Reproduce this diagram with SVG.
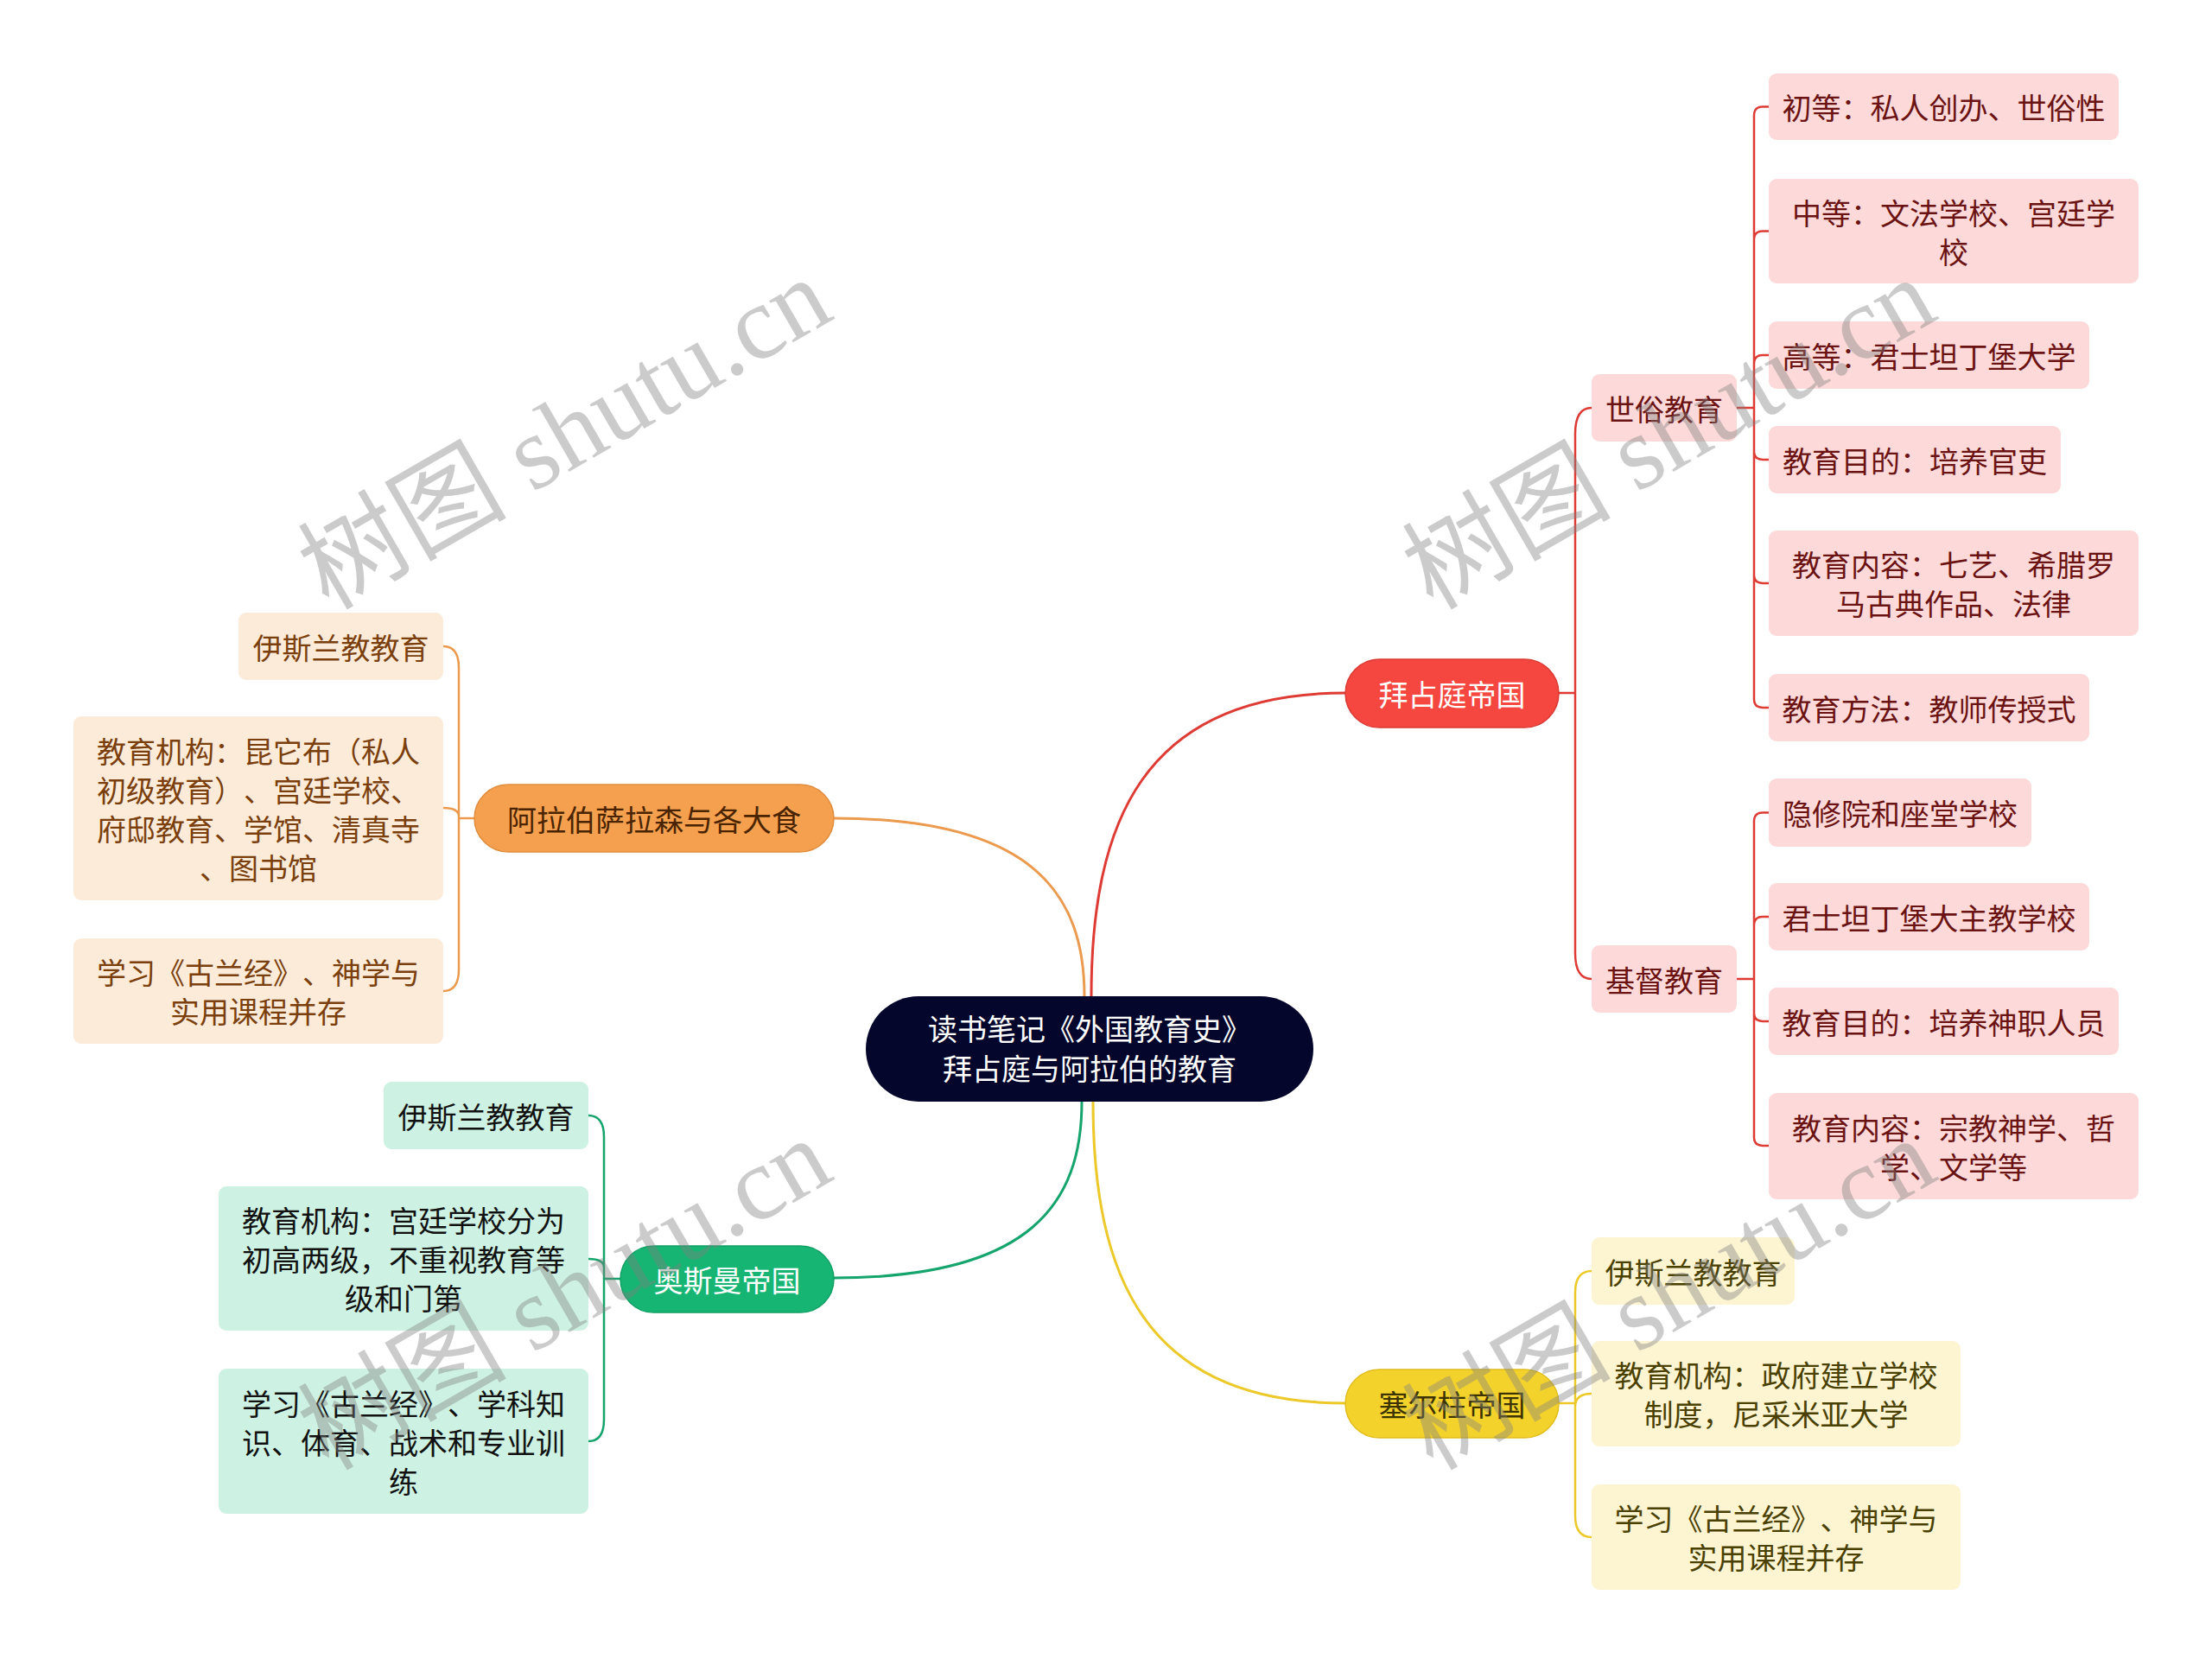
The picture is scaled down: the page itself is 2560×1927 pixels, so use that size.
<svg xmlns="http://www.w3.org/2000/svg" width="2560" height="1927" viewBox="0 0 2560 1927">
<style>
text{font-family:"Noto Sans CJK SC","Noto Sans",sans-serif;font-size:34px;text-anchor:middle;dominant-baseline:central;text-spacing-trim:space-all;font-kerning:none}
.c{fill:none;stroke-linecap:round;stroke-linejoin:round}
.cr{stroke:#de3b35}.co{stroke:#ec9a4e}.cg{stroke:#14a46c}.cy{stroke:#ecc928}
.w1{stroke-width:3}.w2{stroke-width:2.5}
.lr{fill:#fdd9d9}.lo{fill:#fdebd9}.lg{fill:#cdf1e2}.ly{fill:#fdf5d2}
.tr{fill:#6b1212}.to{fill:#7a3f0c}.tg{fill:#111111}.ty{fill:#4a4000}
.wm{font-family:"Liberation Serif","Noto Sans CJK SC",serif;font-size:121px;fill:#808080;opacity:0.4;text-anchor:start;dominant-baseline:auto}
</style>
<rect width="2560" height="1927" fill="#ffffff"/>
<g id="connectors">
<path class="c cr w1" d="M1263 1153 C1263 953 1322 802 1557 802"/>
<path class="c co w1" d="M1255 1153 C1255 1036 1197 947 965 947"/>
<path class="c cg w1" d="M1252 1275 C1252 1391 1195 1479 965 1479"/>
<path class="c cy w1" d="M1265 1275 C1265 1474 1323 1624 1557 1624"/>
<path class="c cr w2" d="M1804 802 H1823 M1823 802 V502 Q1823 472 1842 472 M1823 802 V1103 Q1823 1133 1842 1133"/>
<path class="c cr w2" d="M2010 472 H2030 M2030 472 V133.5 Q2030 123.5 2040 123.5 H2047 M2030 472 V277.5 Q2030 267.5 2040 267.5 H2047 M2030 472 V421 Q2030 411 2040 411 H2047 M2030 472 V522 Q2030 532 2040 532 H2047 M2030 472 V665 Q2030 675 2040 675 H2047 M2030 472 V809 Q2030 819 2040 819 H2047"/>
<path class="c cr w2" d="M2010 1133 H2030 M2030 1133 V950.5 Q2030 940.5 2040 940.5 H2047 M2030 1133 V1071 Q2030 1061 2040 1061 H2047 M2030 1133 V1172 Q2030 1182 2040 1182 H2047 M2030 1133 V1316 Q2030 1326 2040 1326 H2047"/>
<path class="c cy w2" d="M1804 1624 H1823 M1823 1624 V1496 Q1823 1471 1842 1471 M1823 1624 V1628 Q1823 1613 1842 1613 M1823 1624 V1754 Q1823 1779 1842 1779"/>
<path class="c co w2" d="M549 947 H531 M531 947 V773 Q531 748 513 748 M531 947 V945 Q531 935 513 935 M531 947 V1122 Q531 1147 513 1147"/>
<path class="c cg w2" d="M718 1480 H699 M699 1480 V1316 Q699 1291 681 1291 M699 1480 V1467 Q699 1457 681 1457 M699 1480 V1643 Q699 1668 681 1668"/>
</g>
<g id="root">
<rect x="1002" y="1153" width="518" height="122" rx="61" fill="#05062b"/>
<text x="1261" y="1189" fill="#ffffff">读书笔记《外国教育史》</text>
<text x="1261" y="1235" fill="#ffffff">拜占庭与阿拉伯的教育</text>
</g>
<g id="byzantine">
<rect x="1557" y="763" width="247" height="79" rx="39.5" fill="#f5463f" stroke="#d93a33" stroke-width="1.5"/>
<text x="1680.5" y="802.5" fill="#ffffff">拜占庭帝国</text>
</g>
<g id="arab">
<rect x="549" y="908" width="416" height="78" rx="39" fill="#f4a04e" stroke="#e08c3c" stroke-width="1.5"/>
<text x="757" y="947" fill="#4a2400">阿拉伯萨拉森与各大食</text>
</g>
<g id="ottoman">
<rect x="718" y="1442" width="247" height="77" rx="38.5" fill="#17b574" stroke="#10a064" stroke-width="1.5"/>
<text x="841.5" y="1480.5" fill="#ffffff">奥斯曼帝国</text>
</g>
<g id="seljuk">
<rect x="1557" y="1585" width="247" height="79" rx="39.5" fill="#f4d22c" stroke="#e0bd1c" stroke-width="1.5"/>
<text x="1680.5" y="1624.5" fill="#3d3300">塞尔柱帝国</text>
</g>
<g id="secular">
<rect class="lr" x="1842" y="433" width="168" height="78" rx="9"/>
<text class="tr" x="1926" y="472">世俗教育</text>
</g>
<g id="christian">
<rect class="lr" x="1842" y="1094" width="168" height="78" rx="9"/>
<text class="tr" x="1926" y="1133">基督教育</text>
</g>
<g id="s1">
<rect class="lr" x="2047" y="85" width="405" height="77" rx="9"/>
<text class="tr" x="2249.5" y="123.5">初等：私人创办、世俗性</text>
</g>
<g id="s2">
<rect class="lr" x="2047" y="207" width="428" height="121" rx="9"/>
<text class="tr" x="2261" y="245">中等：文法学校、宫廷学</text>
<text class="tr" x="2261" y="290">校</text>
</g>
<g id="s3">
<rect class="lr" x="2047" y="372" width="371" height="78" rx="9"/>
<text class="tr" x="2232.5" y="411">高等：君士坦丁堡大学</text>
</g>
<g id="s4">
<rect class="lr" x="2047" y="493" width="338" height="78" rx="9"/>
<text class="tr" x="2216" y="532">教育目的：培养官吏</text>
</g>
<g id="s5">
<rect class="lr" x="2047" y="614" width="428" height="122" rx="9"/>
<text class="tr" x="2261" y="652.5">教育内容：七艺、希腊罗</text>
<text class="tr" x="2261" y="697.5">马古典作品、法律</text>
</g>
<g id="s6">
<rect class="lr" x="2047" y="780" width="371" height="78" rx="9"/>
<text class="tr" x="2232.5" y="819">教育方法：教师传授式</text>
</g>
<g id="c1">
<rect class="lr" x="2047" y="901" width="304" height="79" rx="9"/>
<text class="tr" x="2199" y="940.5">隐修院和座堂学校</text>
</g>
<g id="c2">
<rect class="lr" x="2047" y="1022" width="371" height="78" rx="9"/>
<text class="tr" x="2232.5" y="1061">君士坦丁堡大主教学校</text>
</g>
<g id="c3">
<rect class="lr" x="2047" y="1143" width="405" height="78" rx="9"/>
<text class="tr" x="2249.5" y="1182">教育目的：培养神职人员</text>
</g>
<g id="c4">
<rect class="lr" x="2047" y="1265" width="428" height="123" rx="9"/>
<text class="tr" x="2261" y="1304">教育内容：宗教神学、哲</text>
<text class="tr" x="2261" y="1349">学、文学等</text>
</g>
<g id="y1">
<rect class="ly" x="1842" y="1432" width="235" height="78" rx="9"/>
<text class="ty" x="1959.5" y="1471">伊斯兰教教育</text>
</g>
<g id="y2">
<rect class="ly" x="1842" y="1552" width="427" height="122" rx="9"/>
<text class="ty" x="2055.5" y="1590.5">教育机构：政府建立学校</text>
<text class="ty" x="2055.5" y="1635.5">制度，尼采米亚大学</text>
</g>
<g id="y3">
<rect class="ly" x="1842" y="1718" width="427" height="122" rx="9"/>
<text class="ty" x="2055.5" y="1756.5">学习《古兰经》、神学与</text>
<text class="ty" x="2055.5" y="1801.5">实用课程并存</text>
</g>
<g id="a1">
<rect class="lo" x="276" y="709" width="237" height="78" rx="9"/>
<text class="to" x="394.5" y="748">伊斯兰教教育</text>
</g>
<g id="a2">
<rect class="lo" x="85" y="829" width="428" height="213" rx="9"/>
<text class="to" x="299" y="868">教育机构：昆它布（私人</text>
<text class="to" x="299" y="913">初级教育）、宫廷学校、</text>
<text class="to" x="299" y="958">府邸教育、学馆、清真寺</text>
<text class="to" x="299" y="1003">、图书馆</text>
</g>
<g id="a3">
<rect class="lo" x="85" y="1086" width="428" height="122" rx="9"/>
<text class="to" x="299" y="1124.5">学习《古兰经》、神学与</text>
<text class="to" x="299" y="1169.5">实用课程并存</text>
</g>
<g id="o1">
<rect class="lg" x="444" y="1252" width="237" height="78" rx="9"/>
<text class="tg" x="562.5" y="1291">伊斯兰教教育</text>
</g>
<g id="o2">
<rect class="lg" x="253" y="1373" width="428" height="167" rx="9"/>
<text class="tg" x="467" y="1411.5">教育机构：宫廷学校分为</text>
<text class="tg" x="467" y="1456.5">初高两级，不重视教育等</text>
<text class="tg" x="467" y="1501.5">级和门第</text>
</g>
<g id="o3">
<rect class="lg" x="253" y="1584" width="428" height="168" rx="9"/>
<text class="tg" x="467" y="1623">学习《古兰经》、学科知</text>
<text class="tg" x="467" y="1668">识、体育、战术和专业训</text>
<text class="tg" x="467" y="1713">练</text>
</g>
<g id="watermark">
<text class="wm" transform="translate(380 707) rotate(-30)">树图 shutu.cn</text>
<text class="wm" transform="translate(1658 707) rotate(-30)">树图 shutu.cn</text>
<text class="wm" transform="translate(380 1703) rotate(-30)">树图 shutu.cn</text>
<text class="wm" transform="translate(1658 1703) rotate(-30)">树图 shutu.cn</text>
</g>
</svg>
